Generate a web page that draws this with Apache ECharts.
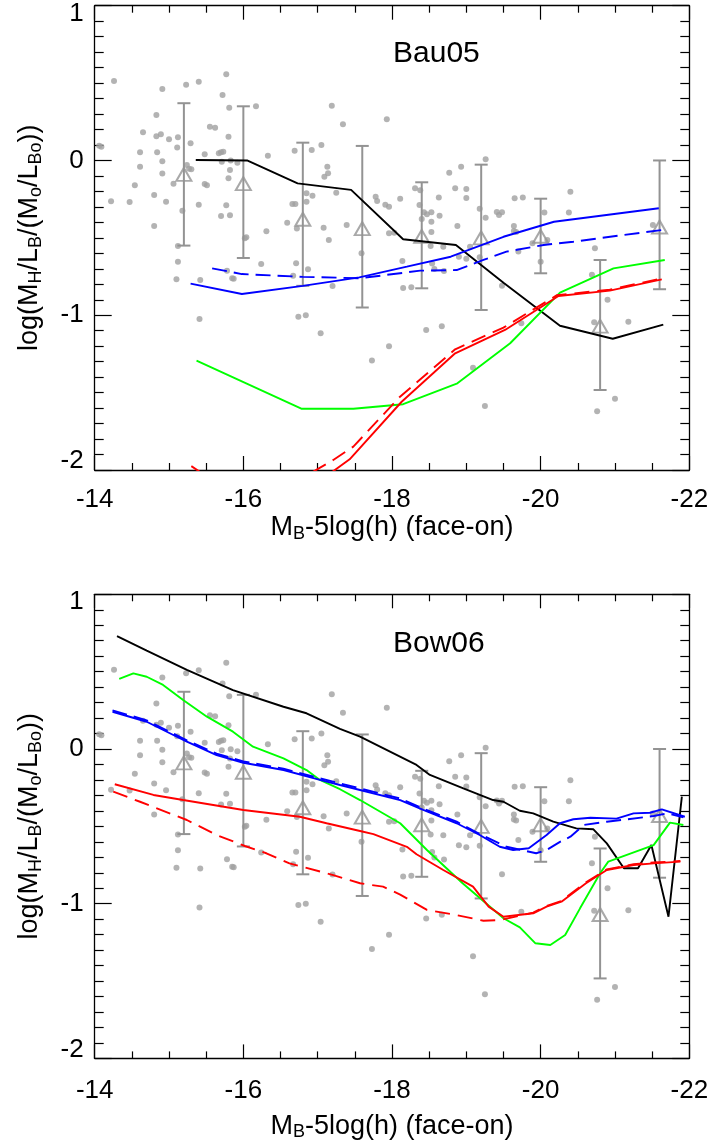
<!DOCTYPE html>
<html><head><meta charset="utf-8">
<script src="https://cdn.jsdelivr.net/npm/echarts@6/dist/echarts.min.js"></script>
<style>html,body{margin:0;padding:0;background:#fff}#c{width:712px;height:1144px}</style>
</head><body><div id="c"></div>
<script>
// ---------------- data ----------------
const panelNames = ['Bau05', 'Bow06'];
const xTickVals = [-22, -20, -18, -16, -14];
const xTickLabels = ['-22', '-20', '-18', '-16', '-14'];
const yTickVals = [-2, -1, 0, 1];
const yTickLabels = ['-2', '-1', '0', '1'];

// observed galaxies (gray dots), same in both panels
const galaxyPts = [
[-14.06,0.095],[-14.09,0.089],[-14.26,0.513],[-14.22,-0.264],[-14.47,-0.268],[-14.54,-0.16],[-14.61,0.053],[-14.61,-0.04],
[-14.65,0.182],[-14.80,-0.423],[-14.80,-0.223],[-14.83,0.294],[-14.83,0.156],[-14.84,0.053],[-14.89,0.169],[-14.91,0.462],
[-14.91,-0.005],[-14.91,-0.085],[-14.96,-0.266],[-15.0,0.137],[-15.06,-0.15],[-15.11,0.083],[-15.12,0.15],[-15.12,-0.553],
[-15.12,-0.654],[-15.10,-0.768],[-15.23,0.49],[-15.29,0.111],[-15.24,-0.029],[-15.27,-0.053],[-15.30,-0.057],[-15.18,-0.325],
[-15.40,0.509],[-15.42,-0.772],[-15.40,-0.286],[-15.48,0.04],[-15.48,-0.152],[-15.51,-0.16],[-15.55,0.218],[-15.62,0.212],
[-15.72,0.423],[-15.77,0.557],[-15.81,0.341],[-15.80,0.154],[-15.67,0.046],[-15.70,0.053],[-15.73,0.057],[-15.71,-0.008],
[-15.83,-0.001],[-15.82,-0.062],[-15.80,-0.115],[-15.92,-0.014],[-15.77,-0.29],[-15.70,-0.359],[-15.82,-0.354],[-15.85,-0.761],
[-15.87,-0.764],[-15.78,-0.712],[-16.02,-0.503],[-16.04,-0.496],[-16.17,0.35],[-16.24,-0.669],[-16.31,-0.458],[-16.33,0.031],
[-16.59,-0.402],[-16.66,-0.281],[-16.70,-0.281],[-16.69,0.063],[-16.71,-0.664],[-16.67,-0.745],[-16.72,-0.44],[-16.85,-0.212],
[-16.85,-0.266],[-16.87,-0.703],[-16.93,-0.228],[-16.92,0.068],[-17.05,0.1],[-17.08,-0.434],[-17.09,-0.105],[-17.14,-0.083],
[-17.13,-0.04],[-17.15,-0.514],[-17.19,0.354],[-17.25,-0.208],[-17.34,0.234],[-17.39,-0.417],[-17.20,-0.811],[-15.41,-1.024],
[-16.74,-1.009],[-16.84,-1.0],[-17.04,-1.117],[-17.93,0.266],[-17.59,-0.6],[-17.78,-0.234],[-17.80,-0.262],[-17.91,-0.286],
[-17.96,-0.299],[-18.11,-0.247],[-17.96,-0.471],[-18.03,-0.467],[-18.14,-0.65],[-18.15,-0.824],[-18.26,-0.819],[-18.31,-0.18],
[-18.38,-0.193],[-18.37,-0.288],[-18.40,-0.378],[-18.43,-0.335],[-18.47,-0.348],[-18.53,-0.335],[-18.53,-0.396],[-18.53,-0.462],
[-18.52,-0.553],[-18.54,-0.665],[-18.57,-0.701],[-18.63,-0.24],[-18.64,-0.357],[-18.69,-0.557],[-18.70,-0.714],[-18.77,-0.079],
[-18.93,-0.04],[-18.85,-0.18],[-19.0,-0.184],[-19.0,-0.242],[-18.88,-0.423],[-18.90,-0.622],[-19.0,-0.635],[-19.05,-0.557],
[-19.18,-0.312],[-19.26,0.008],[-19.26,-0.37],[-19.18,-0.626],[-19.41,-0.333],[-19.44,-0.352],[-19.48,-0.335],[-19.48,-0.809],
[-19.64,-0.423],[-19.64,-0.456],[-19.67,-0.462],[-19.70,-0.589],[-19.65,-0.244],[-19.76,-0.24],[-19.89,-0.535],[-20.05,-0.337],
[-20.0,-0.654],[-20.09,-0.514],[-20.38,-0.337],[-20.40,-0.202],[-20.69,-0.738],[-20.73,-0.568],[-20.90,-0.9],[-21.51,-0.417],
[-18.46,-1.095],[-18.67,-1.071],[-17.96,-1.2],[-17.73,-1.293],[-19.09,-1.339],[-19.25,-1.586],[-19.74,-1.052],[-20.72,-1.046],
[-21.18,-1.042],[-21.0,-1.539],[-20.76,-1.621]
];

// binned means with error bars
const binX  = [-15.2, -16.0, -16.8, -17.6, -18.4, -19.2, -20.0, -20.8, -21.6];
const binY  = [-0.09, -0.15, -0.38, -0.44, -0.49, -0.50, -0.49, -1.07, -0.43];
const binHi = [0.37, 0.35, 0.115, 0.094, -0.141, -0.027, -0.247, -0.643, 0.0];
const binLo = [-0.55, -0.63, -0.81, -0.95, -0.826, -0.966, -0.729, -1.483, -0.832];

// Bau05 model curves
const bauBlack = [[-15.36,0.003],[-16.05,0.0],[-16.73,-0.148],[-17.45,-0.19],[-18.15,-0.509],[-18.86,-0.546],[-19.5,-0.79],[-20.26,-1.068],[-20.97,-1.152],[-21.65,-1.061]];
const bauBlue = [[-15.29,-0.796],[-15.98,-0.863],[-16.8,-0.81],[-17.56,-0.755],[-18.2,-0.686],[-18.79,-0.622],[-19.5,-0.493],[-20.18,-0.396],[-21.59,-0.309]];
const bauBlueDash = [[-15.58,-0.697],[-15.98,-0.734],[-16.8,-0.752],[-17.57,-0.761],[-18.38,-0.712],[-18.87,-0.708],[-19.23,-0.643],[-19.54,-0.589],[-20.04,-0.546],[-20.44,-0.525],[-21.11,-0.482],[-21.70,-0.445]];
const bauGreen = [[-15.37,-1.294],[-16.78,-1.604],[-17.48,-1.604],[-18.15,-1.575],[-18.88,-1.44],[-19.59,-1.181],[-20.26,-0.854],[-20.98,-0.697],[-21.67,-0.643]];
const bauRed = [[-15.3,-2.12],[-16.0,-2.3],[-16.8,-2.15],[-17.43,-1.931],[-18.13,-1.559],[-18.85,-1.246],[-19.52,-1.095],[-20.24,-0.876],[-20.93,-0.841],[-21.63,-0.768]];
const bauRedDash = [[-15.3,-1.975],[-16.0,-2.2],[-16.8,-2.05],[-17.21,-1.935],[-17.48,-1.849],[-18.1,-1.53],[-18.85,-1.22],[-19.5,-1.08],[-20.22,-0.87],[-20.93,-0.835],[-21.63,-0.762]];

// Bow06 model curves
const bowBlack = [[-14.30,0.73],[-14.70,0.636],[-15.24,0.511],[-15.86,0.381],[-16.54,0.273],[-16.85,0.231],[-17.30,0.13],[-17.57,0.08],[-18.33,-0.103],[-18.51,-0.168],[-18.96,-0.254],[-19.36,-0.33],[-19.5,-0.341],[-19.72,-0.399],[-19.90,-0.416],[-20.17,-0.47],[-20.48,-0.513],[-20.71,-0.519],[-20.89,-0.61],[-21.12,-0.771],[-21.31,-0.771],[-21.49,-0.621],[-21.72,-1.084],[-21.90,-0.308]];
const bowBlue = [[-14.24,0.241],[-14.70,0.176],[-15.24,0.047],[-15.64,-0.039],[-16.0,-0.089],[-16.54,-0.136],[-17.03,-0.2],[-17.30,-0.233],[-17.57,-0.265],[-18.11,-0.33],[-18.42,-0.394],[-18.87,-0.48],[-19.18,-0.556],[-19.45,-0.632],[-19.63,-0.653],[-19.84,-0.642],[-20.08,-0.556],[-20.26,-0.48],[-20.44,-0.454],[-20.67,-0.444],[-21.02,-0.45],[-21.25,-0.416],[-21.47,-0.412],[-21.63,-0.39],[-21.94,-0.438]];
const bowBlueDash = [[-14.24,0.25],[-14.70,0.185],[-15.24,0.056],[-15.64,-0.03],[-16.0,-0.08],[-16.54,-0.127],[-17.03,-0.19],[-17.57,-0.255],[-18.11,-0.32],[-18.42,-0.385],[-18.87,-0.47],[-19.18,-0.55],[-19.54,-0.632],[-19.94,-0.674],[-20.08,-0.653],[-20.26,-0.6],[-20.40,-0.567],[-20.58,-0.491],[-20.89,-0.47],[-21.16,-0.455],[-21.52,-0.433],[-21.70,-0.416],[-21.92,-0.441]];
const bowGreen = [[-14.33,0.453],[-14.52,0.489],[-14.70,0.467],[-14.92,0.414],[-15.19,0.317],[-15.51,0.209],[-15.86,0.112],[-16.13,0.015],[-16.54,-0.06],[-16.85,-0.136],[-17.03,-0.2],[-17.30,-0.26],[-17.57,-0.33],[-17.75,-0.38],[-18.11,-0.48],[-18.47,-0.653],[-18.95,-0.868],[-19.24,-0.987],[-19.50,-1.094],[-19.72,-1.153],[-19.93,-1.256],[-20.13,-1.267],[-20.33,-1.202],[-20.53,-1.03],[-20.80,-0.803],[-20.91,-0.728],[-21.52,-0.621],[-21.74,-0.476],[-21.92,-0.491]];
const bowRed = [[-14.27,-0.228],[-14.79,-0.297],[-15.19,-0.33],[-16.0,-0.394],[-16.76,-0.438],[-17.12,-0.48],[-17.57,-0.53],[-17.75,-0.55],[-18.20,-0.632],[-18.33,-0.68],[-18.69,-0.782],[-19.09,-0.89],[-19.30,-1.019],[-19.50,-1.084],[-19.90,-1.062],[-20.08,-1.019],[-20.28,-0.987],[-20.61,-0.868],[-20.89,-0.782],[-21.25,-0.75],[-21.52,-0.739],[-21.88,-0.728]];
const bowRedDash = [[-14.25,-0.276],[-14.61,-0.341],[-15.24,-0.459],[-15.64,-0.556],[-16.02,-0.627],[-16.31,-0.674],[-16.62,-0.739],[-17.21,-0.815],[-17.57,-0.868],[-17.88,-0.89],[-18.11,-0.941],[-18.47,-1.04],[-18.85,-1.072],[-19.23,-1.11],[-19.46,-1.105],[-19.90,-1.058],[-20.08,-1.015],[-20.28,-0.982],[-20.61,-0.862],[-20.89,-0.778],[-21.25,-0.745],[-21.52,-0.734],[-21.88,-0.724]];

const panelCurves = [
  {black: bauBlack, blue: bauBlue, blueDash: bauBlueDash, green: bauGreen, red: bauRed, redDash: bauRedDash},
  {black: bowBlack, blue: bowBlue, blueDash: bowBlueDash, green: bowGreen, red: bowRed, redDash: bowRedDash}
];

// ---------------- styling ----------------
const FONT = '"Liberation Sans", Arial, Helvetica, sans-serif';
const GRAY_PT = '#a0a0a0';
const GRAY_ERR = '#939393';
const grids = [
  {left: 94.7, top: 5.7, width: 594.6, height: 464.3},
  {left: 94.7, top: 594.3, width: 594.6, height: 464.1}
];
const xNameGap = [43, 53];
const xLabelMargin = [17, 19];

function xLabelFmt(v) { const i = xTickVals.indexOf(v); return i >= 0 ? xTickLabels[i] : ''; }
function yLabelFmt(v) {
  const i = yTickVals.indexOf(v); if (i < 0) return '';
  const s = yTickLabels[i];
  if (v === 1) return '{t|' + s + '}';
  if (v === -2) return '{b|' + s + '}';
  return s;
}

const tickLine = {color: '#000', width: 1.2};
const xAxes = [], yAxes = [], series = [], titles = [];
for (let g = 0; g < 2; g++) {
  const xCommon = {
    gridIndex: g, type: 'value', min: xTickVals[0], max: xTickVals[xTickVals.length - 1], interval: 2, inverse: true,
    axisLine: {onZero: false, lineStyle: {color: '#000', width: 1.3}},
    axisTick: {inside: true, length: 14, lineStyle: tickLine},
    minorTick: {show: true, splitNumber: 4, length: 7, lineStyle: tickLine},
    splitLine: {show: false}, minorSplitLine: {show: false}
  };
  xAxes.push(Object.assign({}, xCommon, {
    position: 'bottom',
    axisLabel: {color: '#000', fontSize: 26, fontFamily: FONT, margin: xLabelMargin[g], formatter: xLabelFmt},
    name: 'M{s|B}-5log(h) (face-on)', nameLocation: 'middle', nameGap: xNameGap[g],
    nameTextStyle: {color: '#000', fontSize: 27, fontFamily: FONT,
      rich: {s: {fontSize: 18, fontFamily: FONT, color: '#000', padding: [12, 0, 0, 0]}}}
  }));
  xAxes.push(Object.assign({}, xCommon, {position: 'top', axisLabel: {show: false}}));

  const yCommon = {
    gridIndex: g, type: 'value', min: yTickVals[0], max: yTickVals[yTickVals.length - 1], interval: 1,
    axisLine: {onZero: false, lineStyle: {color: '#000', width: 1.3}},
    axisTick: {inside: true, length: 17, lineStyle: tickLine},
    minorTick: {show: true, splitNumber: 10, length: 9, lineStyle: tickLine},
    splitLine: {show: false}, minorSplitLine: {show: false}
  };
  yAxes.push(Object.assign({}, yCommon, {
    position: 'left',
    axisLabel: {color: '#000', fontSize: 26, fontFamily: FONT, margin: 11, formatter: yLabelFmt,
      rich: {t: {fontSize: 26, fontFamily: FONT, color: '#000', padding: [16, 0, 0, 0]},
             b: {fontSize: 26, fontFamily: FONT, color: '#000', padding: [0, 0, 18, 0]}}},
    name: 'log(M{s|H}/L{s|B}/(M{s|o}/L{s|Bo}))', nameLocation: 'middle', nameGap: 50, nameRotate: 90,
    nameTextStyle: {color: '#000', fontSize: 27, fontFamily: FONT,
      rich: {s: {fontSize: 18, fontFamily: FONT, color: '#000', padding: [12, 0, 0, 0]}}}
  }));
  yAxes.push(Object.assign({}, yCommon, {position: 'right', axisLabel: {show: false}}));

  const xi = 2 * g, yi = 2 * g;
  series.push({type: 'scatter', xAxisIndex: xi, yAxisIndex: yi, data: galaxyPts, symbol: 'circle', symbolSize: 6,
    itemStyle: {color: GRAY_PT}, silent: true, z: 1});
  series.push({type: 'custom', xAxisIndex: xi, yAxisIndex: yi, z: 2, silent: true,
    data: binX.map((x, i) => [x, binLo[i], binHi[i]]),
    encode: {x: 0, y: [1, 2]},
    renderItem: function (params, api) {
      const x = api.value(0), lo = api.value(1), hi = api.value(2);
      const t = api.coord([x, hi]), b = api.coord([x, lo]);
      const w = 6.5;
      const st = () => ({stroke: GRAY_ERR, lineWidth: 2});
      return {type: 'group', children: [
        {type: 'line', shape: {x1: t[0], y1: t[1], x2: b[0], y2: b[1]}, style: st()},
        {type: 'line', shape: {x1: t[0] - w, y1: t[1], x2: t[0] + w, y2: t[1]}, style: st()},
        {type: 'line', shape: {x1: b[0] - w, y1: b[1], x2: b[0] + w, y2: b[1]}, style: st()}
      ]};
    }});
  series.push({type: 'scatter', xAxisIndex: xi, yAxisIndex: yi, data: binX.map((x, i) => [x, binY[i]]),
    symbol: 'triangle', symbolSize: [15, 13], silent: true, z: 3,
    itemStyle: {color: 'rgba(255,255,255,0)', borderColor: GRAY_ERR, borderWidth: 2}});
  const c = panelCurves[g];
  const lineDefs = [
    [c.black, '#000000', 'solid'], [c.green, '#00ff00', 'solid'],
    [c.blueDash, '#0000ff', [15, 7]], [c.blue, '#0000ff', 'solid'],
    [c.redDash, '#ff0000', [15, 8]], [c.red, '#ff0000', 'solid']
  ];
  lineDefs.forEach(([d, col, type]) => {
    series.push({type: 'line', xAxisIndex: xi, yAxisIndex: yi, data: d, showSymbol: false, symbol: 'none',
      clip: true, silent: true, z: 4, lineStyle: {color: col, width: 1.9, type: type}});
  });
  titles.push({text: panelNames[g], left: 393, top: g === 0 ? 39 : 629, padding: 0,
    textStyle: {fontSize: 30, fontWeight: 'normal', color: '#000', fontFamily: FONT}});
}

const chart = echarts.init(document.getElementById('c'), null, {renderer: 'canvas'});
chart.setOption({
  animation: false,
  backgroundColor: '#fff',
  title: titles,
  grid: grids,
  xAxis: xAxes,
  yAxis: yAxes,
  series: series
});
</script></body></html>
